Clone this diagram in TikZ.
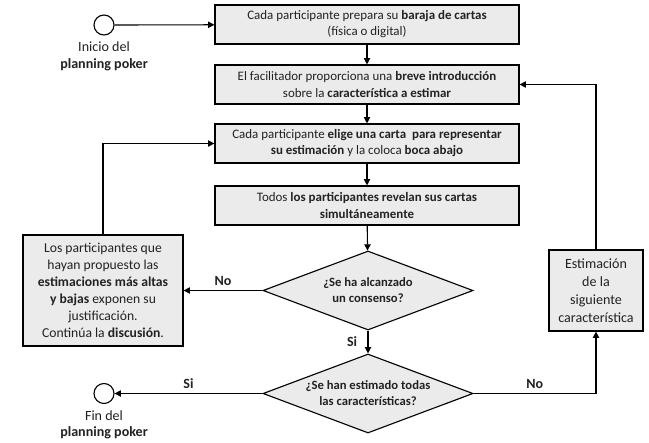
\documentclass[tikz,border=0pt]{standalone}
\usepackage{fontspec}
\setmainfont{Carlito}
\usetikzlibrary{arrows.meta,shapes.geometric,shadows}
\definecolor{boxgray}{HTML}{EBEBEB}
\definecolor{inkgray}{HTML}{222222}
\tikzset{
  stepbox/.style={draw, fill=boxgray, line width=0.8pt, align=center,
    drop shadow={shadow xshift=0.6pt, shadow yshift=-0.6pt, fill=black!40, opacity=0.6},
    font=\fontsize{9.2}{11.4}\selectfont, text=inkgray},
  sidebox/.style={stepbox, font=\fontsize{9.7}{12.1}\selectfont},
  decision/.style={draw, fill=boxgray, diamond, line width=0.8pt, inner sep=0pt,
    minimum width=5.25cm, minimum height=1.975cm},
  terminal/.style={draw, circle, line width=0.8pt, minimum size=0.5cm, inner sep=0pt},
  flow/.style={-{Triangle[length=4.5pt,width=4.5pt]}, line width=0.8pt},
  answer/.style={font=\fontsize{9}{11.4}\selectfont\bfseries, text=inkgray}
}

\begin{document}
\begin{tikzpicture}[x=0.025cm, y=-0.025cm]
  \useasboundingbox (0,0) rectangle (649,442);
  % main column
  \node[stepbox, minimum width=7.6cm, minimum height=0.975cm] (prepare) at (367,24.5)
    {Cada participante prepara su \textbf{baraja de cartas}\\(física o digital)};
  \node[stepbox, minimum width=7.6cm, minimum height=0.975cm] (intro) at (367,84.5)
    {El facilitador proporciona una \textbf{breve introducción}\\sobre la \textbf{característica a estimar}};
  \node[stepbox, minimum width=7.6cm, minimum height=0.975cm] (choose) at (367,143.5)
    {Cada participante \textbf{elige una carta \ para representar}\\\textbf{su estimación} y la coloca \textbf{boca abajo}};
  \node[stepbox, minimum width=7.6cm, minimum height=0.975cm] (reveal) at (367,205.5)
    {Todos \textbf{los participantes revelan sus cartas}\\\textbf{simultáneamente}};
  \node[decision] (consensus) at (368,290.5) {};
  \node[answer, align=center] at (consensus) {¿Se ha alcanzado\\un consenso?};
  \node[decision] (alldone) at (368,393.5) {};
  \node[answer, align=center] at (alldone) {¿Se han estimado todas\\las características?};
  % side boxes
  \node[sidebox, minimum width=4cm, minimum height=2.775cm] (discuss) at (103,290.5)
    {Los participantes que\\hayan propuesto las\\\textbf{estimaciones más altas}\\\textbf{y bajas} exponen su\\justificación.\\Continúa la \textbf{discusión}.};
  \node[sidebox, font=\fontsize{10}{12.8}\selectfont, minimum width=2.35cm, minimum height=2.025cm] (next) at (596,290.5)
    {Estimación\\de la\\siguiente\\característica};
  % start and end
  \node[terminal] (start) at (104,25) {};
  \node[below=1pt, align=center, font=\fontsize{10}{11.6}\selectfont, text=inkgray] at (start.south)
    {Inicio del\\\textbf{planning poker}};
  \node[terminal] (finish) at (104,393.5) {};
  \node[below=1pt, align=center, font=\fontsize{10}{11.6}\selectfont, text=inkgray] at (finish.south)
    {Fin del\\\textbf{planning poker}};
  % connectors
  \draw[flow] (start) -- (prepare);
  \draw[flow] (prepare) -- (intro);
  \draw[flow] (intro) -- (choose);
  \draw[flow] (choose) -- (reveal);
  \draw[flow] (reveal) -- (consensus);
  \draw[flow] (consensus) -- node[answer, font=\fontsize{10}{12}\selectfont\bfseries, left=4pt] {Si} (alldone);
  \draw[flow] (consensus) -- node[answer, font=\fontsize{10}{12}\selectfont\bfseries, above] {No} (discuss);
  \draw[flow] (discuss.north) |- (choose.west);
  \draw[flow] (alldone) -- node[answer, font=\fontsize{10}{12}\selectfont\bfseries, above] {Si} (finish);
  \draw[flow] (alldone.east) -- node[answer, font=\fontsize{10}{12}\selectfont\bfseries, above] {No} (596,393.5) -- (next.south);
  \draw[flow] (next.north) |- (intro.east);
\end{tikzpicture}
\end{document}
